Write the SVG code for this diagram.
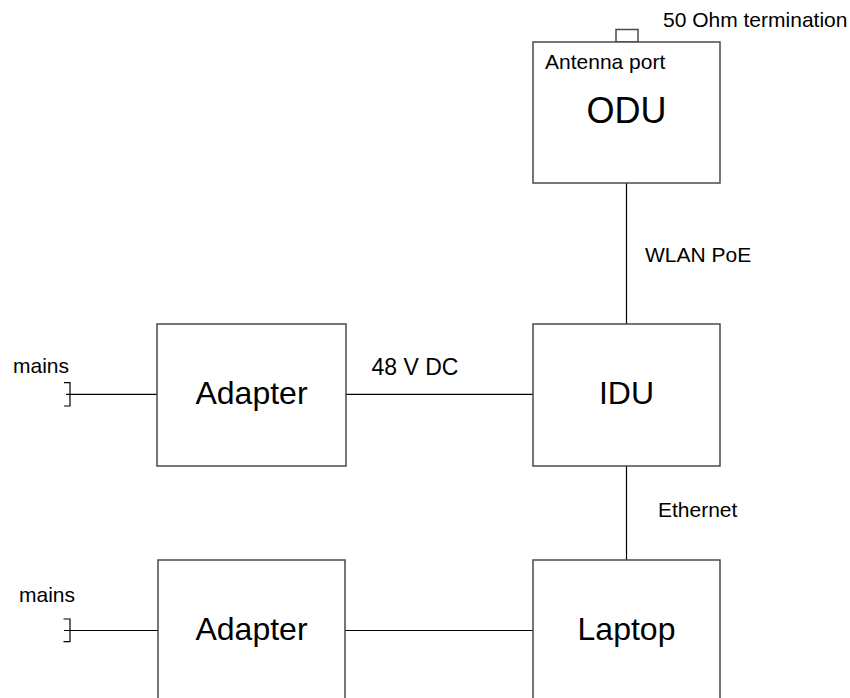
<svg xmlns="http://www.w3.org/2000/svg" width="850" height="698" viewBox="0 0 850 698">
<style>
.box{fill:#fff;stroke:#4a4a4a;stroke-width:1.5}
.ln{stroke:#000;stroke-width:1.2;fill:none}
.big{font-family:"Liberation Sans",Arial,sans-serif;font-size:32px;fill:#000;text-anchor:middle}
.sm{font-family:"Liberation Sans",Arial,sans-serif;font-size:21px;fill:#000}
</style>
<rect width="850" height="698" fill="#fff"/>
<g id="connectors">
<line class="ln" x1="626.5" y1="183" x2="626.5" y2="324"/>
<line class="ln" x1="346" y1="394.3" x2="533" y2="394.3"/>
<line class="ln" x1="626.5" y1="466" x2="626.5" y2="560"/>
<line class="ln" x1="345" y1="630.5" x2="533" y2="630.5"/>
<line class="ln" x1="66" y1="394.3" x2="157" y2="394.3"/>
<line class="ln" x1="64" y1="630.5" x2="158" y2="630.5"/>
</g>
<g id="mains1">
<polyline class="ln" points="64,382.7 70,382.7 70,406 64,406" stroke="#333"/>
<text class="sm" x="13" y="373">mains</text>
</g>
<g id="mains2">
<polyline class="ln" points="63.5,619 70,619 70,641.7 63.5,641.7" stroke="#333"/>
<text class="sm" x="19" y="601.5">mains</text>
</g>
<g id="termination">
<rect class="box" x="616" y="29.5" width="22" height="12.5"/>
<text class="sm" x="663" y="27">50 Ohm termination</text>
</g>
<g id="odu">
<rect class="box" x="533" y="42" width="187" height="141"/>
<text class="sm" x="545" y="69">Antenna port</text>
<text class="big" x="626.5" y="123" style="font-size:36px">ODU</text>
</g>
<g id="adapter1">
<rect class="box" x="157" y="324" width="189" height="142"/>
<text class="big" x="251.5" y="404">Adapter</text>
</g>
<g id="idu">
<rect class="box" x="533" y="324" width="187" height="142"/>
<text class="big" x="626.5" y="404">IDU</text>
</g>
<g id="adapter2">
<rect class="box" x="158" y="560" width="187" height="150"/>
<text class="big" x="251.5" y="640">Adapter</text>
</g>
<g id="laptop">
<rect class="box" x="533" y="560" width="187" height="150"/>
<text class="big" x="626.5" y="640">Laptop</text>
</g>
<g id="labels">
<text class="sm" x="645" y="262">WLAN PoE</text>
<text class="sm" x="371.5" y="375" style="font-size:23px">48 V DC</text>
<text class="sm" x="658" y="516.5">Ethernet</text>
</g>
</svg>
